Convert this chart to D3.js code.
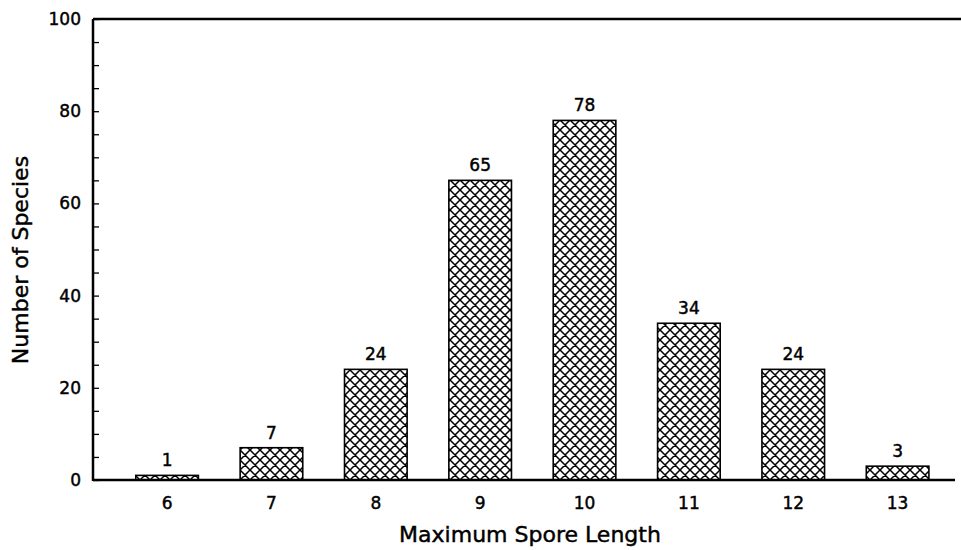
<!DOCTYPE html>
<html>
<head>
<meta charset="utf-8">
<script src="https://cdn.jsdelivr.net/npm/d3@7"></script>
<style>
  body { margin: 0; background: #fff; }
  text { font-family: "DejaVu Sans", Arial, sans-serif; fill: #000; stroke: #000; stroke-width: 0.45; }
</style>
</head>
<body>
<div id="chart"></div>
<script>
// spore length classes and species counts
var lengths = [6, 7, 8, 9, 10, 11, 12, 13];
var counts = [1, 7, 24, 65, 78, 34, 24, 3];
var yTicks = [0, 20, 40, 60, 80, 100];

var width = 961, height = 550;
var mLeft = 93, mTop = 19, mBottom = 480, mRight = 955;

var svg = d3.select("#chart").append("svg")
  .attr("width", width)
  .attr("height", height);

// crosshatch fill
var pat = svg.append("defs").append("pattern")
  .attr("id", "hatch")
  .attr("patternUnits", "userSpaceOnUse")
  .attr("width", 10)
  .attr("height", 10);
pat.append("rect").attr("width", 10).attr("height", 10).attr("fill", "#fff");
pat.append("path")
  .attr("d", "M0,0L10,10M10,0L0,10M-1,9L1,11M9,-1L11,1M-1,1L1,-1M9,11L11,9")
  .attr("stroke", "#000")
  .attr("stroke-width", 1.5);

var x = d3.scaleLinear()
  .domain([5.29, 13.55])
  .range([mLeft, mRight]);

var y = d3.scaleLinear()
  .domain([0, 100])
  .range([mBottom, mTop]);

var barW = x(6.3) - x(6);

// bars
svg.selectAll("rect.bar")
  .data(counts)
  .enter().append("rect")
    .attr("class", "bar")
    .attr("x", function(d, i) { return x(lengths[i]) - barW; })
    .attr("width", barW * 2)
    .attr("y", function(d) { return y(d); })
    .attr("height", function(d) { return y(0) - y(d); })
    .attr("fill", "url(#hatch)")
    .attr("stroke", "#000")
    .attr("stroke-width", 1.6);

// value labels
svg.selectAll("text.val")
  .data(counts)
  .enter().append("text")
    .attr("class", "val")
    .attr("x", function(d, i) { return x(lengths[i]); })
    .attr("y", function(d) { return y(d) - 9; })
    .attr("text-anchor", "middle")
    .attr("font-size", 17)
    .text(function(d) { return d; });

// y axis with inward ticks
var yAxis = svg.append("g")
  .attr("transform", "translate(" + mLeft + ",0)")
  .call(d3.axisRight(y).tickValues(d3.range(0, 101, 5)).tickSize(6).tickFormat(""));
yAxis.select(".domain").remove();
yAxis.selectAll("line").attr("stroke-width", 1.3);

svg.selectAll("text.ytick")
  .data(yTicks)
  .enter().append("text")
    .attr("class", "ytick")
    .attr("x", mLeft - 12)
    .attr("y", function(d) { return y(d); })
    .attr("dy", "0.35em")
    .attr("text-anchor", "end")
    .attr("font-size", 17)
    .text(function(d) { return d; });

// frame lines
svg.append("line")
  .attr("x1", mLeft).attr("x2", mLeft)
  .attr("y1", mTop).attr("y2", mBottom + 1)
  .attr("stroke", "#000").attr("stroke-width", 2.5);
svg.append("line")
  .attr("x1", mLeft).attr("x2", 961)
  .attr("y1", mTop).attr("y2", mTop)
  .attr("stroke", "#000").attr("stroke-width", 2.5);
svg.append("line")
  .attr("x1", mLeft).attr("x2", mRight)
  .attr("y1", mBottom).attr("y2", mBottom)
  .attr("stroke", "#000").attr("stroke-width", 2.5);

// x tick labels
svg.selectAll("text.xtick")
  .data(lengths)
  .enter().append("text")
    .attr("class", "xtick")
    .attr("x", function(d) { return x(d); })
    .attr("y", 509)
    .attr("text-anchor", "middle")
    .attr("font-size", 17)
    .text(function(d) { return d; });

// axis titles
svg.append("text")
  .attr("x", 530)
  .attr("y", 542)
  .attr("text-anchor", "middle")
  .attr("font-size", 22)
  .text("Maximum Spore Length");

svg.append("text")
  .attr("transform", "translate(28,260) rotate(-90)")
  .attr("text-anchor", "middle")
  .attr("font-size", 22)
  .text("Number of Species");
</script>
</body>
</html>
